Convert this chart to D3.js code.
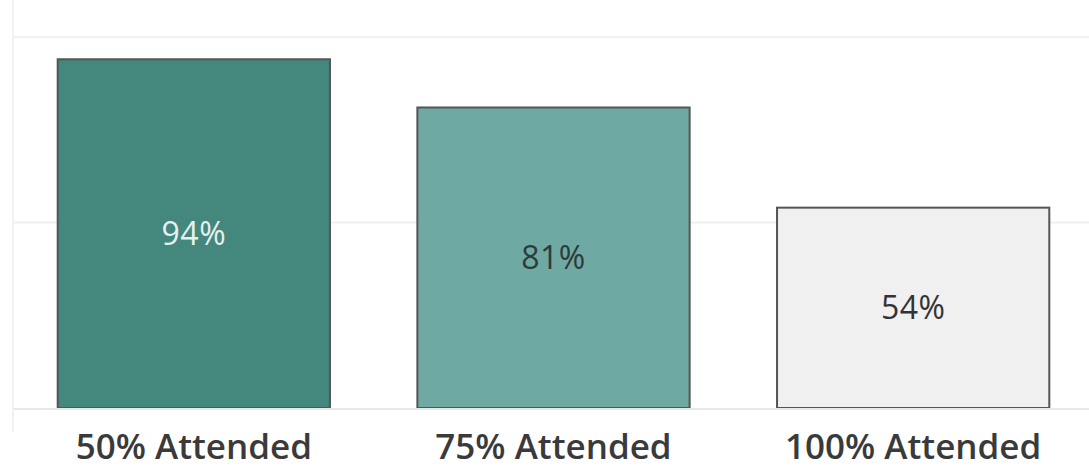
<!DOCTYPE html>
<html>
<head>
<meta charset="utf-8">
<script src="https://cdn.jsdelivr.net/npm/d3@7"></script>
<style>
  body { margin: 0; background: #fff; }
  svg { display: block; }
</style>
</head>
<body>
<div id="chart"></div>
<script>
// data
var categories = ["50% Attended", "75% Attended", "100% Attended"];
var values = [94, 81, 54];
var yTicks = [0, 50, 100];

var width = 1089, height = 470;

var svg = d3.select("#chart").append("svg")
    .attr("width", width)
    .attr("height", height);

// scales
var x = d3.scaleBand()
    .domain(categories)
    .range([14, 1093])
    .paddingInner(0.243)
    .paddingOuter(0.1215);

var y = d3.scaleLinear()
    .domain([0, 100])
    .range([408, 37]);

var fill = d3.scaleOrdinal()
    .domain(categories)
    .range(["#43877d", "#6ea9a3", "#f0f0f0"]);

var labelColor = d3.scaleOrdinal()
    .domain(categories)
    .range(["#e6f0ee", "#2f3a3a", "#333333"]);

// gridlines
svg.append("g")
    .selectAll("line")
    .data(yTicks.slice(1))
  .enter().append("line")
    .attr("x1", 14)
    .attr("x2", width)
    .attr("y1", function(d) { return y(d); })
    .attr("y2", function(d) { return y(d); })
    .attr("stroke", "#f0f0f0")
    .attr("stroke-width", 2);

// left axis line
svg.append("line")
    .attr("x1", 13).attr("x2", 13)
    .attr("y1", 0).attr("y2", 432)
    .attr("stroke", "#ececec")
    .attr("stroke-width", 1.5);

// bars
var data = categories.map(function(c, i) { return {cat: c, value: values[i]}; });

svg.selectAll(".bar")
    .data(data)
  .enter().append("rect")
    .attr("class", "bar")
    .attr("x", function(d) { return x(d.cat); })
    .attr("width", x.bandwidth())
    .attr("y", function(d) { return y(d.value); })
    .attr("height", function(d) { return y(0) - y(d.value); })
    .attr("fill", function(d) { return fill(d.cat); })
    .attr("stroke", "#555555")
    .attr("stroke-width", 2);

// baseline
svg.append("line")
    .attr("x1", 14).attr("x2", width)
    .attr("y1", y(0) + 1).attr("y2", y(0) + 1)
    .attr("stroke", "#e8e8e8")
    .attr("stroke-width", 2);

// value labels
svg.selectAll(".val")
    .data(data)
  .enter().append("text")
    .attr("class", "val")
    .attr("x", function(d) { return x(d.cat) + x.bandwidth() / 2; })
    .attr("y", function(d) { return (y(d.value) + y(0)) / 2; })
    .attr("dy", "0.35em")
    .attr("text-anchor", "middle")
    .attr("font-family", "'Open Sans', sans-serif")
    .attr("font-size", 32)
    .attr("letter-spacing", 0.5)
    .attr("fill", function(d) { return labelColor(d.cat); })
    .text(function(d) { return d.value + "%"; });

// x axis labels
var xAxis = svg.append("g")
    .attr("transform", "translate(0," + 408 + ")")
    .call(d3.axisBottom(x).tickSize(0).tickPadding(0));
xAxis.select(".domain").remove();
xAxis.selectAll("text")
    .attr("y", 0)
    .attr("dy", 51)
    .attr("font-family", "'Open Sans', sans-serif")
    .attr("font-weight", 600)
    .attr("font-size", 35)
    .attr("fill", "#3a3a3a");
</script>
</body>
</html>
